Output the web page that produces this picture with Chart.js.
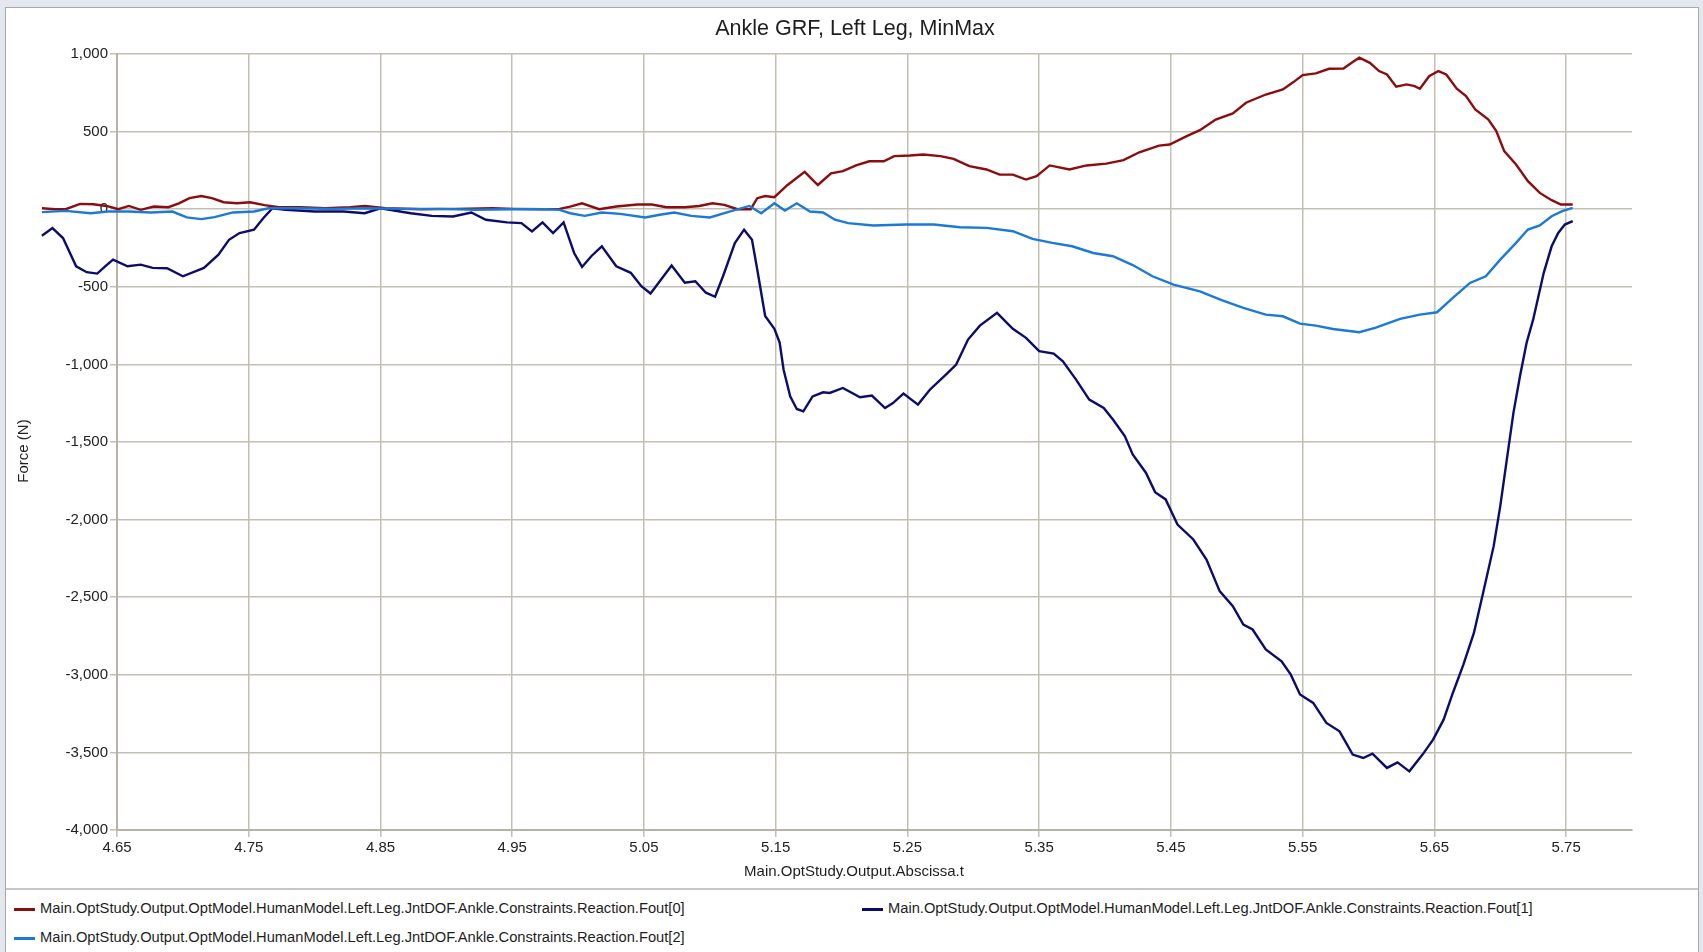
<!DOCTYPE html>
<html>
<head>
<meta charset="utf-8">
<title>Ankle GRF, Left Leg, MinMax</title>
<script src="https://cdn.jsdelivr.net/npm/chart.js@4.4.1/dist/chart.umd.min.js"></script>
<style>
  html, body { margin:0; padding:0; background:#e3e7ef; width:1703px; height:952px; overflow:hidden; font-family:"Liberation Sans", Arial, sans-serif; }
  .panel { position:absolute; left:5px; top:7px; width:1692px; height:950px; background:#fff; border:1px solid #a9a9a9; border-bottom:none; }
  .plot { position:absolute; left:0; top:0; width:1692px; height:880px; }
  .legend { position:absolute; left:0; top:880px; width:1692px; height:70px; border-top:2px solid #c6c6c6; }
  .item { position:absolute; font-size:14.7px; color:#1e1e1e; white-space:nowrap; line-height:18px; }
  .item i { display:inline-block; width:21px; height:3px; vertical-align:middle; margin-right:5px; }
</style>
</head>
<body>
<div class="panel">
  <div class="plot"><canvas id="grf"></canvas></div>
  <div class="legend" id="legend"></div>
</div>
<script>
// --- data ---
var chartTitle = 'Ankle GRF, Left Leg, MinMax';
var xTitle = 'Main.OptStudy.Output.Abscissa.t';
var yTitle = 'Force (N)';
var xTicks = [4.65, 4.75, 4.85, 4.95, 5.05, 5.15, 5.25, 5.35, 5.45, 5.55, 5.65, 5.75];
var xMin = 4.65, xMax = 5.80;

var labels = [
  'Main.OptStudy.Output.OptModel.HumanModel.Left.Leg.JntDOF.Ankle.Constraints.Reaction.Fout[0]',
  'Main.OptStudy.Output.OptModel.HumanModel.Left.Leg.JntDOF.Ankle.Constraints.Reaction.Fout[1]',
  'Main.OptStudy.Output.OptModel.HumanModel.Left.Leg.JntDOF.Ankle.Constraints.Reaction.Fout[2]'
];
var colors = ['#8b0d0d', '#0c0c6c', '#1a7ad6'];

// Fout[0]
var t0 = [4.593, 4.603, 4.611, 4.622, 4.632, 4.642, 4.651, 4.659, 4.668, 4.678, 4.689, 4.697, 4.705, 4.714, 4.722, 4.731, 4.741, 4.751, 4.762, 4.773,
  4.789, 4.808, 4.827, 4.838, 4.854, 4.881, 4.908, 4.935, 4.951, 4.976, 4.986, 4.994, 5.003, 5.016, 5.029, 5.045, 5.056, 5.067, 5.081, 5.092,
  5.102, 5.111, 5.121, 5.131, 5.136, 5.142, 5.149, 5.159, 5.172, 5.182, 5.192, 5.201, 5.211, 5.221, 5.232, 5.240, 5.252, 5.262, 5.275, 5.285,
  5.297, 5.310, 5.320, 5.330, 5.340, 5.348, 5.358, 5.373, 5.386, 5.401, 5.414, 5.426, 5.441, 5.449, 5.462, 5.472, 5.484, 5.497, 5.507, 5.522,
  5.535, 5.543, 5.550, 5.560, 5.570, 5.581, 5.588, 5.593, 5.601, 5.608, 5.614, 5.621, 5.629, 5.635, 5.639, 5.646, 5.653, 5.659, 5.667, 5.674,
  5.681, 5.691, 5.697, 5.703, 5.712, 5.721, 5.730, 5.739, 5.746, 5.755];
var f0 = [6, 0, 0, 34, 32, 21, 0, 21, -4, 17, 13, 38, 71, 85, 71, 45, 38, 45, 26, 13,
  13, 6, 13, 21, 6, 0, 2, 6, 2, 0, 2, 17, 38, 0, 17, 30, 30, 13, 13, 21,
  38, 28, 0, 0, 71, 85, 77, 156, 241, 156, 231, 245, 282, 309, 309, 342, 346, 352, 342, 324,
  277, 256, 223, 223, 191, 213, 282, 256, 282, 294, 316, 367, 410, 417, 471, 509, 578, 617, 686, 739,
  772, 819, 864, 875, 905, 907, 948, 976, 943, 890, 868, 789, 804, 793, 776, 857, 890, 868, 776, 729,
  643, 578, 503, 374, 288, 181, 105, 58, 30, 30];

// Fout[1]
var t1 = [4.593, 4.601, 4.609, 4.619, 4.627, 4.635, 4.641, 4.647, 4.658, 4.668, 4.677, 4.688, 4.700, 4.716, 4.727, 4.735, 4.743, 4.754, 4.761, 4.768,
  4.778, 4.800, 4.822, 4.838, 4.850, 4.873, 4.889, 4.905, 4.919, 4.930, 4.946, 4.957, 4.965, 4.973, 4.981, 4.989, 4.997, 5.003, 5.010, 5.018,
  5.029, 5.040, 5.048, 5.055, 5.064, 5.071, 5.081, 5.089, 5.097, 5.104, 5.110, 5.119, 5.126, 5.132, 5.136, 5.142, 5.149, 5.153, 5.156, 5.161,
  5.166, 5.171, 5.178, 5.186, 5.191, 5.201, 5.214, 5.223, 5.233, 5.239, 5.247, 5.258, 5.267, 5.280, 5.287, 5.296, 5.305, 5.318, 5.330, 5.340,
  5.350, 5.361, 5.368, 5.378, 5.388, 5.399, 5.406, 5.415, 5.421, 5.431, 5.438, 5.446, 5.455, 5.467, 5.477, 5.487, 5.497, 5.505, 5.512, 5.522,
  5.534, 5.541, 5.548, 5.558, 5.568, 5.578, 5.588, 5.596, 5.603, 5.614, 5.622, 5.631, 5.641, 5.649, 5.657, 5.664, 5.672, 5.680, 5.687, 5.695,
  5.700, 5.705, 5.710, 5.715, 5.720, 5.725, 5.733, 5.739, 5.744, 5.749, 5.755];
var f1 = [-171, -122, -186, -368, -406, -415, -368, -325, -368, -357, -378, -380, -432, -378, -293, -197, -154, -132, -58, 6,
  -4, -15, -15, -26, 6, -26, -43, -47, -21, -68, -85, -90, -143, -85, -154, -85, -282, -372, -303, -239,
  -368, -410, -496, -543, -442, -363, -474, -464, -538, -564, -432, -218, -132, -197, -389, -688, -770, -860, -1034, -1206,
  -1287, -1302, -1206, -1180, -1184, -1152, -1212, -1201, -1281, -1249, -1188, -1259, -1163, -1059, -1001, -840, -750, -668, -771, -829,
  -915, -930, -980, -1098, -1227, -1281, -1355, -1462, -1580, -1698, -1823, -1870, -2032, -2128, -2257, -2461, -2558, -2676, -2708, -2837,
  -2913, -2999, -3127, -3181, -3310, -3364, -3514, -3536, -3508, -3600, -3564, -3622, -3514, -3418, -3289, -3117, -2934, -2730, -2472, -2171,
  -1913, -1612, -1312, -1075, -860, -710, -410, -239, -153, -99, -77];

// Fout[2]
var t2 = [4.593, 4.611, 4.630, 4.643, 4.659, 4.676, 4.692, 4.703, 4.714, 4.724, 4.738, 4.754, 4.765, 4.786, 4.814, 4.841, 4.868, 4.895, 4.922, 4.949,
  4.976, 4.986, 4.994, 5.005, 5.018, 5.032, 5.051, 5.062, 5.073, 5.086, 5.100, 5.113, 5.130, 5.139, 5.149, 5.157, 5.166, 5.176, 5.186, 5.195,
  5.205, 5.224, 5.249, 5.270, 5.290, 5.310, 5.330, 5.345, 5.360, 5.375, 5.391, 5.406, 5.421, 5.436, 5.452, 5.472, 5.489, 5.505, 5.522, 5.535,
  5.548, 5.560, 5.573, 5.593, 5.605, 5.624, 5.639, 5.652, 5.664, 5.677, 5.689, 5.700, 5.712, 5.721, 5.730, 5.739, 5.747, 5.755];
var f2 = [-19, -11, -26, -15, -15, -21, -15, -53, -64, -51, -21, -15, 6, 6, 2, 6, 2, 2, -4, 0,
  0, -4, -26, -43, -21, -30, -53, -36, -21, -43, -53, -21, 21, -26, 38, -9, 38, -15, -21, -68,
  -90, -105, -99, -99, -116, -120, -142, -191, -217, -239, -282, -303, -360, -432, -486, -529, -587, -636, -679, -690,
  -737, -750, -772, -793, -765, -707, -679, -664, -572, -475, -432, -325, -217, -131, -105, -45, -13, 9];

var times = [t0, t1, t2];
var forces = [f0, f1, f2];

// --- build datasets ---
var datasets = [];
for (var s = 0; s < 3; s++) {
  var pts = [];
  for (var i = 0; i < times[s].length; i++) pts.push({ x: times[s][i], y: forces[s][i] });
  datasets.push({
    label: labels[s],
    data: pts,
    borderColor: colors[s],
    backgroundColor: colors[s],
    borderWidth: 2.4,
    pointRadius: 0,
    tension: 0,
    clip: false,
    order: 2 - s   // later series on top
  });
}

// html legend
var legend = document.getElementById('legend');
var spots = [[8, 9], [856, 9], [8, 38]];
labels.forEach(function (lab, k) {
  var d = document.createElement('div');
  d.className = 'item';
  d.style.left = spots[k][0] + 'px';
  d.style.top = spots[k][1] + 'px';
  d.innerHTML = '<i style="background:' + colors[k] + '"></i>' + lab;
  legend.appendChild(d);
});

var gridColor = '#c3bfb3';
var font = '"Liberation Sans", Arial, sans-serif';

// title and axis titles
const extraText = {
  id: 'extraText',
  afterDraw(chart) {
    const ctx = chart.ctx;
    ctx.save();
    ctx.fillStyle = '#1e1e1e';
    ctx.textAlign = 'center';
    ctx.textBaseline = 'middle';
    ctx.font = '21.5px ' + font;
    ctx.fillText(chartTitle, 849, 21);
    ctx.font = '15px ' + font;
    ctx.fillText(xTitle, 848, 864);
    ctx.translate(18, 443);
    ctx.rotate(-Math.PI / 2);
    ctx.fillText(yTitle, 0, 0);
    ctx.restore();
  }
};

var config = {
  type: 'line',
  data: { datasets: datasets },
  options: {
    responsive: true,
    maintainAspectRatio: false,
    animation: false,
    layout: { padding: { top: 46, right: 66, left: 0, bottom: 0 } },
    plugins: {
      legend: { display: false },
      title: { display: false },
      tooltip: { enabled: false }
    },
    scales: {
      x: {
        type: 'linear',
        bounds: 'data',
        // range set here (not as min/max) so the part of the curves left of the axis is still drawn
        afterDataLimits: function (scale) { scale.min = xMin; scale.max = xMax; },
        afterBuildTicks: function (scale) {
          scale.ticks = xTicks.map(function (v) { return { value: v }; });
        },
        afterFit: function (scale) { scale.height = 58; },
        grid: { color: gridColor, lineWidth: 1.5, tickLength: 7, drawTicks: true },
        border: { color: '#b6b2a6', width: 2 },
        ticks: {
          color: '#222',
          font: { family: font, size: 15 },
          padding: 2,
          maxRotation: 0,
          autoSkip: false,
          callback: function (v) { return Number(v).toFixed(2); }
        }
      },
      y: {
        type: 'linear',
        min: -4000,
        max: 1000,
        afterFit: function (scale) { scale.width = 111; },
        grid: { color: gridColor, lineWidth: 1.5, tickLength: 7, drawTicks: true },
        border: { color: '#b6b2a6', width: 2 },
        ticks: {
          stepSize: 500,
          color: '#222',
          font: { family: font, size: 15 },
          padding: 2,
          callback: function (v) { return Number(v).toLocaleString('en-US'); }
        }
      }
    }
  },
  plugins: [extraText]
};

var canvas = document.getElementById('grf');
var grfChart = new Chart(canvas, config);
</script>
</body>
</html>
